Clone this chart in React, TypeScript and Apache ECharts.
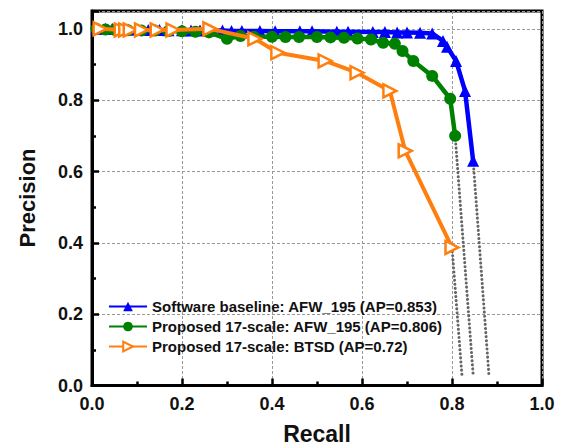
import React, { useEffect, useRef } from "react";
import * as echarts from "echarts";

const xTicks = ["0.0", "0.2", "0.4", "0.6", "0.8", "1.0"];
const yTicks = ["0.0", "0.2", "0.4", "0.6", "0.8", "1.0"];

const seriesNames = [
  "Software baseline: AFW_195 (AP=0.853)",
  "Proposed 17-scale: AFW_195 (AP=0.806)",
  "Proposed 17-scale: BTSD (AP=0.72)",
];

const blueR = [0.01, 0.03, 0.045, 0.06, 0.08, 0.1, 0.125, 0.15, 0.17, 0.2, 0.22, 0.24, 0.265, 0.29, 0.31, 0.333, 0.373, 0.407, 0.462, 0.489, 0.544, 0.569, 0.624, 0.651, 0.678, 0.7, 0.729, 0.756, 0.78, 0.789, 0.809, 0.829, 0.847];
const blueP = [1.0, 1.0, 1.0, 1.0, 0.998, 0.998, 0.997, 0.997, 0.996, 0.996, 0.995, 0.995, 0.995, 0.995, 0.994, 0.994, 0.994, 0.993, 0.993, 0.993, 0.992, 0.992, 0.991, 0.991, 0.99, 0.99, 0.989, 0.987, 0.966, 0.95, 0.91, 0.826, 0.63];

const greenR = [0.01, 0.03, 0.05, 0.08, 0.11, 0.14, 0.17, 0.2, 0.23, 0.26, 0.3, 0.33, 0.36, 0.4, 0.43, 0.46, 0.5, 0.53, 0.56, 0.59, 0.62, 0.647, 0.673, 0.69, 0.714, 0.756, 0.796, 0.807];
const greenP = [1.0, 0.998, 0.997, 0.996, 0.995, 0.995, 0.994, 0.993, 0.992, 0.99, 0.972, 0.98, 0.978, 0.978, 0.977, 0.977, 0.977, 0.976, 0.975, 0.973, 0.97, 0.961, 0.958, 0.938, 0.91, 0.868, 0.804, 0.7];

const orangeR = [0.018, 0.065, 0.075, 0.085, 0.11, 0.145, 0.18, 0.262, 0.362, 0.413, 0.518, 0.589, 0.662, 0.696, 0.8];
const orangeP = [1.0, 0.997, 0.997, 0.997, 0.997, 0.997, 0.997, 1.0, 0.972, 0.933, 0.91, 0.877, 0.826, 0.658, 0.387];

const dropBlueR = [0.847, 0.882];
const dropBlueP = [0.63, 0.03];
const dropGreenR = [0.807, 0.847];
const dropGreenP = [0.7, 0.03];
const dropOrangeR = [0.8, 0.822];
const dropOrangeP = [0.387, 0.03];

const zip = (a: number[], b: number[]) => a.map((v, i) => [v, b[i]]);

const FONT = "Arial, 'Liberation Sans', sans-serif";

export default function App() {
  const ref = useRef<HTMLDivElement>(null);
  useEffect(() => {
    if (!ref.current) return;
    const chart = echarts.init(ref.current, undefined, { renderer: "svg" });
    const fmt = (labels: string[]) => (v: number) => {
      const k = Math.round(v * 5);
      if (Math.abs(v * 5 - k) > 1e-6) return "";
      return labels[k] ?? "";
    };
    const dropStyle = {
      color: "#666",
      width: 3,
      type: [0.1, 4] as any,
      cap: "round" as any,
    };
    chart.setOption({
      animation: false,
      backgroundColor: "#fff",
      grid: {
        left: 92,
        right: 24,
        top: 11,
        bottom: 62.5,
        show: true,
        borderColor: "#000",
        borderWidth: 3,
        backgroundColor: "transparent",
      },
      legend: {
        orient: "vertical",
        left: 103,
        top: 294,
        itemWidth: 38,
        itemHeight: 12,
        itemGap: 5,
        textStyle: { fontFamily: FONT, fontWeight: "bold", fontSize: 15, color: "#111" },
        data: seriesNames,
      },
      xAxis: {
        type: "value",
        min: 0,
        max: 1,
        interval: 0.2,
        axisLine: { show: true, lineStyle: { color: "#000", width: 3 } },
        axisTick: { inside: true, length: 7, lineStyle: { color: "#000", width: 2.5 } },
        minorTick: { show: true, splitNumber: 2, length: 4, lineStyle: { color: "#000", width: 2.5 } },
        axisLabel: {
          margin: 9,
          fontFamily: FONT,
          fontWeight: "bold",
          fontSize: 18,
          color: "#111",
          formatter: fmt(xTicks),
        },
        splitLine: { show: true, lineStyle: { color: "#999", width: 1, type: [3, 2] } },
      },
      yAxis: {
        type: "value",
        min: 0,
        max: 1.05,
        interval: 0.2,
        axisLine: { show: true, lineStyle: { color: "#000", width: 3 } },
        axisTick: { inside: true, length: 7, lineStyle: { color: "#000", width: 2.5 } },
        minorTick: { show: true, splitNumber: 2, length: 4, lineStyle: { color: "#000", width: 2.5 } },
        axisLabel: {
          margin: 9,
          fontFamily: FONT,
          fontWeight: "bold",
          fontSize: 18,
          color: "#111",
          formatter: fmt(yTicks),
        },
        splitLine: { show: true, lineStyle: { color: "#999", width: 1, type: [3, 2] } },
      },
      series: [
        { type: "line", data: zip(dropBlueR, dropBlueP), showSymbol: false, lineStyle: dropStyle, z: 1, silent: true },
        { type: "line", data: zip(dropGreenR, dropGreenP), showSymbol: false, lineStyle: dropStyle, z: 1, silent: true },
        { type: "line", data: zip(dropOrangeR, dropOrangeP), showSymbol: false, lineStyle: dropStyle, z: 1, silent: true },
        {
          name: seriesNames[0],
          type: "line",
          data: zip(blueR, blueP),
          symbol: "triangle",
          symbolSize: [12, 12],
          itemStyle: { color: "#0000ff" },
          lineStyle: { color: "#0000ff", width: 4.5 },
          z: 2,
        },
        {
          name: seriesNames[1],
          type: "line",
          data: zip(greenR, greenP),
          symbol: "circle",
          symbolSize: 12,
          itemStyle: { color: "#008000" },
          lineStyle: { color: "#008000", width: 4.5 },
          z: 3,
        },
        {
          name: seriesNames[2],
          type: "line",
          data: zip(orangeR, orangeP),
          symbol: "triangle",
          symbolSize: [13, 13],
          symbolRotate: -90,
          itemStyle: { color: "#fff", borderColor: "#ff7f0e", borderWidth: 2.5 },
          lineStyle: { color: "#ff7f0e", width: 4 },
          z: 4,
        },
      ],
      graphic: [
        {
          type: "text",
          x: 27,
          y: 198,
          rotation: Math.PI / 2,
          style: {
            text: "Precision",
            fontFamily: FONT,
            fontWeight: "bold",
            fontSize: 22,
            fill: "#111",
            align: "center",
            verticalAlign: "middle",
          },
        },
        {
          type: "text",
          x: 317,
          y: 434,
          style: {
            text: "Recall",
            fontFamily: FONT,
            fontWeight: "bold",
            fontSize: 23,
            fill: "#111",
            align: "center",
            verticalAlign: "middle",
          },
        },
      ],
    });
    return () => chart.dispose();
  }, []);
  return (
    <div
      ref={ref}
      style={{ position: "fixed", left: 0, top: 0, width: 566, height: 448, background: "#fff" }}
    />
  );
}
